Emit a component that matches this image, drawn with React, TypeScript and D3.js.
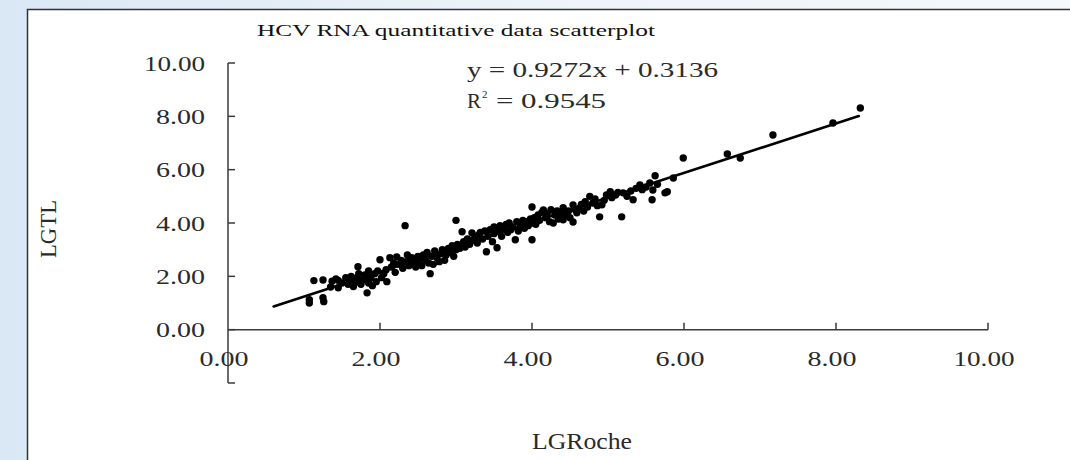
import React from 'react';
import * as d3 from 'd3';

// LGRoche (x) and LGTL (y)
const lgRoche = [
  1.07, 1.07, 1.25, 1.26, 1.13, 1.25, 1.37, 1.45, 1.45, 1.35, 1.5, 1.42,
  1.55, 1.58, 1.6, 1.62, 1.65, 1.68, 1.7, 1.71, 1.72, 1.75, 1.77, 1.8, 1.8, 1.83, 1.85, 1.85, 1.88, 1.9, 1.93, 1.95, 1.97,
  2.0, 2.02, 2.05, 2.08, 2.09, 2.13, 2.15, 2.18, 2.2, 2.22, 2.25, 2.28, 2.3, 2.33, 2.35, 2.36, 2.38, 2.4, 2.42, 2.45, 2.47, 2.5, 2.5,
  2.52, 2.55, 2.57, 2.6, 2.62, 2.64, 2.66, 2.68, 2.7, 2.72, 2.75, 2.78, 2.8, 2.82, 2.85, 2.87, 2.9, 2.92, 2.95, 2.97, 3.0, 3.0,
  3.02, 3.05, 3.08, 3.1, 3.12, 3.15, 3.18, 3.21, 3.22, 3.25, 3.28, 3.3, 3.32, 3.35, 3.38, 3.4, 3.42, 3.45, 3.48, 3.5, 3.54, 3.5,
  3.55, 3.58, 3.6, 3.63, 3.66, 3.68, 3.7, 3.72, 3.75, 3.78, 3.8, 3.82, 3.85, 3.88, 3.9, 3.93, 3.95, 3.98, 4.0, 4.0, 4.0,
  4.03, 4.05, 4.08, 4.1, 4.13, 4.15, 4.18, 4.2, 4.23, 4.25, 4.28, 4.3, 4.33, 4.35, 4.38, 4.41, 4.41, 4.45, 4.48, 4.5, 4.54, 4.54, 4.57, 4.59,
  4.62, 4.65, 4.68, 4.7, 4.73, 4.76, 4.8, 4.83, 4.86, 4.89, 4.92, 4.95, 4.98, 5.03, 5.05, 5.1, 5.13, 5.18, 5.2, 5.25, 5.3, 5.33, 5.37, 5.42, 5.45, 5.5,
  5.55, 5.58, 5.59, 5.62, 5.65, 5.75, 5.78, 5.86, 5.99, 6.57, 6.74, 7.17, 7.96, 8.32,
];
const lgTL = [
  1.0, 1.12, 1.2, 1.05, 1.84, 1.86, 1.82, 1.85, 1.57, 1.6, 1.75, 1.9,
  1.95, 1.7, 1.85, 2.0, 1.62, 1.78, 1.95, 2.36, 2.1, 1.7, 1.85, 2.05, 1.9, 1.38, 1.75, 2.2, 1.95, 1.65, 2.1, 1.8, 2.2,
  2.62, 1.95, 2.1, 2.25, 1.8, 2.7, 2.35, 2.5, 2.15, 2.73, 2.45, 2.6, 2.3, 3.9, 2.55, 2.8, 2.4, 2.65, 2.7, 2.5, 2.35, 2.75, 2.55,
  2.65, 2.4, 2.8, 2.6, 2.9, 2.5, 2.1, 2.75, 2.45, 2.95, 2.7, 2.55, 2.85, 3.0, 2.6, 2.8, 3.05, 2.9, 3.15, 2.75, 4.1, 3.0,
  3.2, 3.05, 3.67, 3.3, 3.1, 3.4, 3.2, 3.63, 3.35, 3.5, 3.25, 3.55, 3.65, 3.4, 3.7, 2.92, 3.5, 3.75, 3.3, 3.6, 3.07, 3.85,
  3.7, 3.9, 3.5, 3.8, 3.95, 3.65, 4.0, 3.75, 3.85, 3.37, 4.05, 3.7, 3.95, 4.1, 3.8, 4.05, 3.9, 4.15, 3.37, 4.6, 4.0,
  4.2, 3.95, 4.3, 4.1, 4.4, 4.49, 4.2, 4.35, 4.05, 4.5, 4.0, 4.3, 4.45, 4.15, 4.35, 4.57, 4.12, 4.3, 4.45, 4.2, 4.68, 4.04, 4.5, 4.38,
  4.55, 4.7, 4.45, 4.8, 4.6, 5.0, 4.75, 4.9, 4.65, 4.23, 4.68, 4.85, 5.05, 5.17, 4.95, 5.05, 5.15, 4.23, 5.13, 5.0, 5.2, 4.87, 5.3, 5.43, 5.25, 5.35,
  5.5, 4.87, 5.24, 5.77, 5.45, 5.13, 5.17, 5.69, 6.44, 6.59, 6.44, 7.3, 7.75, 8.31,
];

const slope = 0.9272;
const intercept = 0.3136;
const rSquared = 0.9545;
const fitRange = [0.6, 8.3];

const xTicks = [0, 2, 4, 6, 8, 10];
const yTicks = [0, 2, 4, 6, 8, 10];

const title = 'HCV RNA quantitative data scatterplot';
const xTitle = 'LGRoche';
const yTitle = 'LGTL';

export default function App() {
  const width = 1070;
  const height = 460;

  const x = d3.scaleLinear().domain([0, 10]).range([228, 988]);
  const y = d3.scaleLinear().domain([-2, 10]).range([383, 63]);

  const points = lgRoche.map((v, i) => ({ x: v, y: lgTL[i] }));

  const line = d3.line<number>()
    .x(d => x(d))
    .y(d => y(slope * d + intercept));

  const serif = '"Liberation Serif", "DejaVu Serif", serif';
  const axisColor = '#3a3a3a';
  const textColor = '#2a2a2a';

  return (
    <svg
      width={width}
      height={height}
      style={{ position: 'absolute', left: 0, top: 0, display: 'block' }}
    >
      <defs>
        <linearGradient id="bg" x1="0" y1="0" x2="1" y2="0">
          <stop offset="0" stopColor="#dae8f5" />
          <stop offset="0.5" stopColor="#edf3f9" />
          <stop offset="1" stopColor="#f5f8fc" />
        </linearGradient>
      </defs>
      <rect x={0} y={0} width={width} height={height} fill="url(#bg)" />

      {/* chart panel */}
      <rect x={27.5} y={9.5} width={width} height={height} fill="#fff" stroke="#333" strokeWidth={1.5} />

      <text x={257} y={36} fontFamily={serif} fontSize={17} textLength={398} lengthAdjust="spacingAndGlyphs" fill="#111">
        {title}
      </text>

      {/* y axis */}
      <line x1={x(0)} x2={x(0)} y1={y(10)} y2={y(-2)} stroke={axisColor} strokeWidth={1.5} />
      {[...yTicks, -2].map(t => (
        <line key={'yt' + t} x1={x(0)} x2={x(0) + 7} y1={y(t)} y2={y(t)} stroke={axisColor} strokeWidth={1.5} />
      ))}
      {yTicks.map(t => (
        <text key={'yl' + t} x={205} y={y(t)} dy="0.36em" textAnchor="end" fontFamily={serif} fontSize={21}
          textLength={t === 10 ? 61 : 49} lengthAdjust="spacingAndGlyphs" fill={textColor}>
          {t.toFixed(2)}
        </text>
      ))}

      {/* x axis */}
      <line x1={x(0)} x2={x(10)} y1={y(0)} y2={y(0)} stroke={axisColor} strokeWidth={1.5} />
      {xTicks.filter(t => t > 0).map(t => (
        <line key={'xt' + t} x1={x(t)} x2={x(t)} y1={y(0)} y2={y(0) - 7} stroke={axisColor} strokeWidth={1.5} />
      ))}
      {xTicks.map(t => (
        <text key={'xl' + t} x={x(t) - 4} y={366} textAnchor="middle" fontFamily={serif} fontSize={21}
          textLength={t === 10 ? 61 : 49} lengthAdjust="spacingAndGlyphs" fill={textColor}>
          {t.toFixed(2)}
        </text>
      ))}

      {/* points */}
      {points.map((p, i) => (
        <circle key={i} cx={x(p.x)} cy={y(p.y)} r={3.7} fill="#000" />
      ))}

      {/* trend line */}
      <path d={line(fitRange) || ''} fill="none" stroke="#000" strokeWidth={2.6} strokeLinecap="round" />

      <text x={467} y={77} fontFamily={serif} fontSize={21} textLength={251} lengthAdjust="spacingAndGlyphs" fill={textColor}>
        {`y = ${slope}x + ${intercept}`}
      </text>
      <text x={467} y={108} fontFamily={serif} fontSize={21} fill={textColor}>R</text>
      <text x={482} y={98} fontFamily={serif} fontSize={11} fill={textColor}>2</text>
      <text x={496} y={108} fontFamily={serif} fontSize={21} textLength={110} lengthAdjust="spacingAndGlyphs" fill={textColor}>
        {`= ${rSquared}`}
      </text>

      <text x={582} y={449} textAnchor="middle" fontFamily={serif} fontSize={23} textLength={100} lengthAdjust="spacingAndGlyphs" fill={textColor}>
        {xTitle}
      </text>
      <text transform="translate(56,229) rotate(-90)" textAnchor="middle" fontFamily={serif} fontSize={23}
        textLength={58} lengthAdjust="spacingAndGlyphs" fill={textColor}>
        {yTitle}
      </text>
    </svg>
  );
}
